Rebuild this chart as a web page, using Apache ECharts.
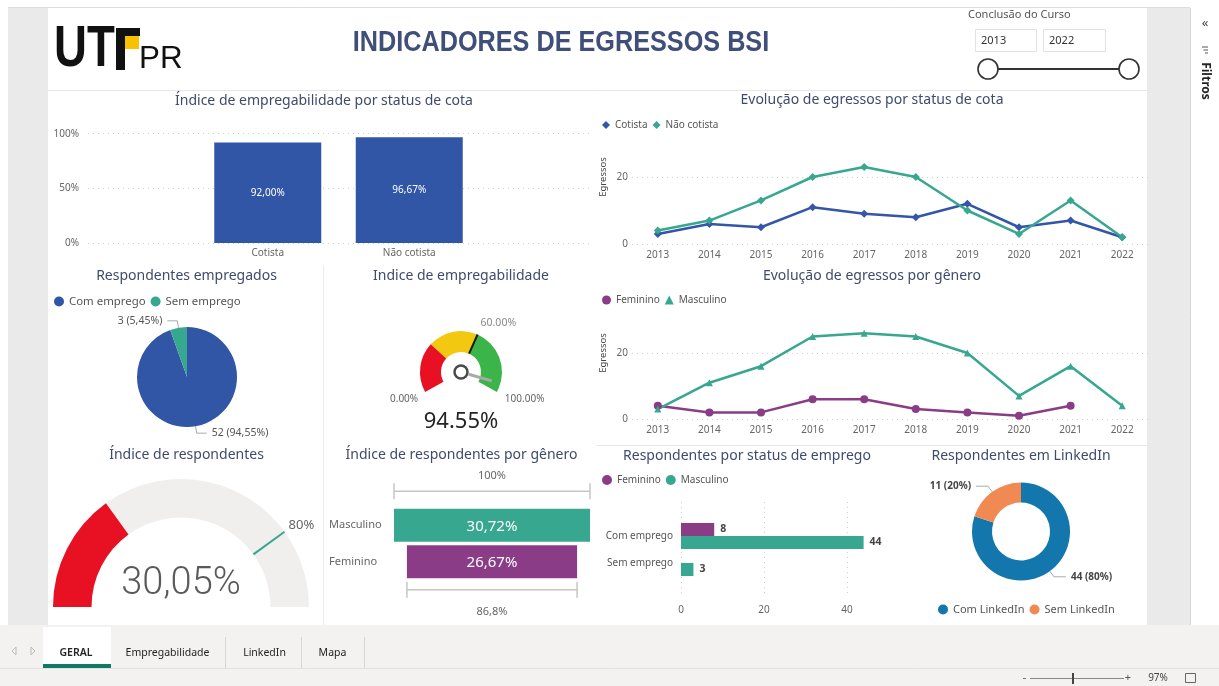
<!DOCTYPE html>
<html lang="pt-BR">
<head>
<meta charset="utf-8">
<title>Indicadores de Egressos BSI</title>
<script src="https://cdn.jsdelivr.net/npm/echarts@6.0.0/dist/echarts.min.js"></script>
<style>
  html, body { margin: 0; padding: 0; background: #fff; }
  #painel { width: 1219px; height: 686px; }
</style>
</head>
<body>
<div id="painel"></div>
<script>
// ---------------- dados ----------------
const cotaCategorias = ['Cotista', 'Não cotista'];
const cotaEmpregabilidade = [92.00, 96.67];
const eixoPercentual = [0, 100];

const anos = ['2013', '2014', '2015', '2016', '2017', '2018', '2019', '2020', '2021', '2022'];
const egressosCotista = [3, 6, 5, 11, 9, 8, 12, 5, 7, 2];
const egressosNaoCotista = [4, 7, 13, 20, 23, 20, 10, 3, 13, 2];
const egressosFeminino = [4, 2, 2, 6, 6, 3, 2, 1, 4, null];
const egressosMasculino = [3, 11, 16, 25, 26, 25, 20, 7, 16, 4];

const empregadosCategorias = ['Com emprego', 'Sem emprego'];
const empregadosValores = [52, 3];

const indiceEmpregabilidade = 94.55;
const metaEmpregabilidade = 60;
const faixasEmpregabilidade = [30, 60, 100];

const indiceRespondentes = 30.05;
const metaRespondentes = 80;

const generoCategorias = ['Masculino', 'Feminino'];
const generoRespondentes = [30.72, 26.67];

const statusCategorias = ['Com emprego', 'Sem emprego'];
const statusFeminino = [8, null];
const statusMasculino = [44, 3];

const linkedinCategorias = ['Com LinkedIn', 'Sem LinkedIn'];
const linkedinValores = [44, 11];

const anosFiltro = ['2013', '2022'];
const abas = ['GERAL', 'Empregabilidade', 'LinkedIn', 'Mapa'];

// ---------------- estilo ----------------
const AZUL = '#3256A6';
const VERDE = '#37A78F';
const ROXO = '#8A3C87';
const LI_AZUL = '#1377AD';
const LI_LARANJA = '#F08A52';
const TITULO = '#3F4B6C';
const FONTE = 'Noto Sans';

const fmtPct = v => v.toFixed(2).replace('.', ',') + '%';

// geometria dos medidores (mesma usada nas séries gauge)
const velo = { centro: [461, 372], raio: 41, ini: 209, fim: -29 };
const medidor = { centro: [181, 607], raio: 128, ini: 180, fim: 0 };
function pontoArco(g, v) {
  const a = (g.ini - v / 100 * (g.ini - g.fim)) * Math.PI / 180;
  return [g.centro[0] + g.raio * Math.cos(a), g.centro[1] - g.raio * Math.sin(a)];
}

const chart = echarts.init(document.getElementById('painel'), null, { renderer: 'canvas' });

// titulos dos visuais
function titulo(texto, x, y) {
  return {
    type: 'text', z: 5,
    style: { text: texto, x: x, y: y, align: 'center', verticalAlign: 'middle',
      fill: TITULO, font: '14px "' + FONTE + '"' }
  };
}
function linha(x1, y1, x2, y2, cor, w) {
  return { type: 'line', z: -5, shape: { x1, y1, x2, y2 }, style: { stroke: cor, lineWidth: w || 1 } };
}
function texto(t, x, y, font, cor, align, extra) {
  return Object.assign({
    type: 'text', z: 5,
    style: { text: t, x, y, font, fill: cor, align: align || 'left', verticalAlign: 'middle' }
  }, extra || {});
}
// texto "estreito" (simula fonte condensada)
function textoEstreito(t, x, y, font, cor, align, escala) {
  return {
    type: 'text', z: 5, x: x, y: y, scaleX: escala,
    style: { text: t, x: 0, y: 0, font, fill: cor, align: align, verticalAlign: 'middle' }
  };
}

const p0 = pontoArco(velo, 0), p100 = pontoArco(velo, 100), pMeta = pontoArco(velo, metaEmpregabilidade);
const pMetaResp = pontoArco(medidor, metaRespondentes);

// moldura do Power BI (fundo, abas, filtros)
const moldura = [
  { type: 'rect', z: -10, shape: { x: 8, y: 8, width: 40, height: 617 }, style: { fill: '#EAEAEA' } },
  { type: 'rect', z: -10, shape: { x: 1147, y: 8, width: 43, height: 617 }, style: { fill: '#EAEAEA' } },
  linha(8, 7.5, 1190, 7.5, '#dddddd'),
  linha(48, 90.5, 1147, 90.5, '#e6e6e6'),
  linha(323.5, 266, 323.5, 625, '#ececec'),
  linha(597, 445.5, 1147, 445.5, '#e6e6e6'),
  // painel de filtros
  linha(1190.5, 8, 1190.5, 625, '#d6d6d6'),
  texto('«', 1205, 23, '13px "' + FONTE + '"', '#444', 'center'),
  linha(1202, 47, 1208, 47, '#555'),
  linha(1203.5, 50, 1208, 50, '#555'),
  linha(1205, 53, 1208, 53, '#555'),
  { type: 'text', z: 5, x: 1205, y: 81, rotation: -Math.PI / 2,
    style: { text: 'Filtros', x: 0, y: 0, align: 'center', verticalAlign: 'middle',
      font: 'bold 12px "' + FONTE + '"', fill: '#252423' } },
  // barra de abas e barra de status
  { type: 'rect', z: -10, shape: { x: 0, y: 625, width: 1219, height: 43 }, style: { fill: '#F3F2F1' } },
  { type: 'rect', z: -10, shape: { x: 0, y: 668, width: 1219, height: 18 }, style: { fill: '#F3F2F1' } },
  linha(0, 668.5, 1219, 668.5, '#e3e1df'),
  { type: 'polyline', z: 5, shape: { points: [[16, 647], [12, 651], [16, 655], [16, 647]] }, style: { stroke: '#bbb', fill: null } },
  { type: 'polyline', z: 5, shape: { points: [[31, 647], [35, 651], [31, 655], [31, 647]] }, style: { stroke: '#bbb', fill: null } },
  { type: 'rect', z: -5, shape: { x: 43, y: 627, width: 68, height: 41 }, style: { fill: '#ffffff' } },
  { type: 'rect', z: 5, shape: { x: 43, y: 664, width: 68, height: 4 }, style: { fill: '#117865' } },
  linha(225.5, 637, 225.5, 668, '#d6d6d6'),
  linha(301.5, 637, 301.5, 668, '#d6d6d6'),
  linha(364.5, 637, 364.5, 668, '#d6d6d6'),
  // zoom 97%
  linha(1023, 678.5, 1026, 678.5, '#777'),
  linha(1030, 678.5, 1124, 678.5, '#888'),
  { type: 'rect', z: 5, shape: { x: 1072, y: 673, width: 2, height: 11 }, style: { fill: '#444' } },
  texto('+', 1128, 678, '11px "' + FONTE + '"', '#555', 'center'),
  texto('97%', 1158, 678, '10px "' + FONTE + '"', '#444', 'center'),
  { type: 'rect', z: 5, shape: { x: 1185.5, y: 673.5, width: 10, height: 9 }, style: { stroke: '#666', fill: null } },
  // cabeçalho: logo UTFPR
  textoEstreito('UT', 54, 50, 'bold 57px "Liberation Sans"', '#111', 'left', 0.8),
  { type: 'rect', z: 5, shape: { x: 116, y: 28, width: 24, height: 8 }, style: { fill: '#111' } },
  { type: 'rect', z: 5, shape: { x: 116, y: 28, width: 9, height: 42 }, style: { fill: '#111' } },
  { type: 'rect', z: 5, shape: { x: 125, y: 36, width: 14, height: 13 }, style: { fill: '#F7C300' } },
  textoEstreito('PR', 139, 59, '32px "Liberation Sans"', '#111', 'left', 0.98),
  textoEstreito('INDICADORES DE EGRESSOS BSI', 561, 43, 'bold 29px "Liberation Sans"', '#404E7A', 'center', 0.87),
  // segmentação por ano
  texto('Conclusão do Curso', 968, 15, '11px "' + FONTE + '"', '#555', 'left'),
  { type: 'rect', z: 5, shape: { x: 975.5, y: 29.5, width: 61, height: 22 }, style: { stroke: '#e2e2e2', fill: '#fff' } },
  { type: 'rect', z: 5, shape: { x: 1043.5, y: 29.5, width: 62, height: 22 }, style: { stroke: '#e2e2e2', fill: '#fff' } },
  texto(anosFiltro[0], 981, 41, '11px "' + FONTE + '"', '#333', 'left'),
  texto(anosFiltro[1], 1049, 41, '11px "' + FONTE + '"', '#333', 'left'),
  { type: 'line', z: 5, shape: { x1: 988, y1: 69, x2: 1129, y2: 69 }, style: { stroke: '#333', lineWidth: 2 } },
  { type: 'circle', z: 6, shape: { cx: 988, cy: 69, r: 10 }, style: { fill: '#fff', stroke: '#333', lineWidth: 1.6 } },
  { type: 'circle', z: 6, shape: { cx: 1129, cy: 69, r: 10 }, style: { fill: '#fff', stroke: '#333', lineWidth: 1.6 } },
  // rótulos dos medidores
  texto((0).toFixed(2) + '%', p0[0] - 7, p0[1] + 7, '10px "' + FONTE + '"', '#666', 'right'),
  texto((100).toFixed(2) + '%', p100[0] + 8, p100[1] + 7, '10px "' + FONTE + '"', '#666', 'left'),
  texto(metaEmpregabilidade.toFixed(2) + '%', pMeta[0] + 3, pMeta[1] - 11, '10.5px "' + FONTE + '"', '#8a8a8a', 'left'),
  texto(metaRespondentes + '%', pMetaResp[0] + 4, pMetaResp[1] - 6, '13px "' + FONTE + '"', '#666', 'left'),
  // títulos
  titulo('Índice de empregabilidade por status de cota', 324, 101),
  titulo('Evolução de egressos por status de cota', 872, 100),
  titulo('Respondentes empregados', 186.5, 276),
  titulo('Indice de empregabilidade', 461, 276),
  titulo('Evolução de egressos por gênero', 872, 276),
  titulo('Índice de respondentes', 186.5, 455),
  titulo('Índice de respondentes por gênero', 461.5, 455),
  titulo('Respondentes por status de emprego', 747, 456),
  titulo('Respondentes em LinkedIn', 1021, 456)
];
const centrosAbas = [76, 167.5, 264.5, 332.5];
abas.forEach((a, i) => {
  moldura.push(texto(a, centrosAbas[i], 653, (i === 0 ? '600 ' : '') + '10.5px "' + FONTE + '"', '#252423', 'center'));
});

// funil "Índice de respondentes por gênero"
const coresGenero = [VERDE, ROXO];
function desenhaFunil(params, api) {
  const i = params.dataIndex;
  const v = api.value(1);
  const maxV = Math.max(...generoRespondentes);
  const a = api.coord([(maxV - v) / 2, api.value(0)]);
  const b = api.coord([(maxV + v) / 2, api.value(0)]);
  const h = api.size([0, 1])[1] * 0.9;
  const cx = (a[0] + b[0]) / 2;
  const filhos = [
    { type: 'rect', shape: { x: a[0], y: a[1] - h / 2, width: b[0] - a[0], height: h }, style: { fill: coresGenero[i] } },
    { type: 'text', style: { text: fmtPct(v), x: cx, y: a[1] + 1, align: 'center', verticalAlign: 'middle',
      fill: '#fff', font: '15px "' + FONTE + '"' } }
  ];
  const ultimo = params.dataInsideLength - 1;
  if (i === 0 || i === ultimo) {
    const yl = i === 0 ? a[1] - 34 : a[1] + 28;
    const yt = i === 0 ? a[1] - 49 : a[1] + 50;
    const conv = v / generoRespondentes[0] * 100;
    const rot = i === 0 ? '100%' : conv.toFixed(1).replace('.', ',') + '%';
    const st = { stroke: '#c8c6c4', lineWidth: 1.5 };
    filhos.push({ type: 'line', shape: { x1: a[0], y1: yl, x2: b[0], y2: yl }, style: st });
    filhos.push({ type: 'line', shape: { x1: a[0], y1: yl - 8, x2: a[0], y2: yl + 8 }, style: st });
    filhos.push({ type: 'line', shape: { x1: b[0], y1: yl - 8, x2: b[0], y2: yl + 8 }, style: st });
    filhos.push({ type: 'text', style: { text: rot, x: cx, y: yt, align: 'center', verticalAlign: 'middle',
      fill: '#666', font: '11px "' + FONTE + '"' } });
  }
  return { type: 'group', children: filhos };
}

const eixoCinza = { color: '#666', fontSize: 10, fontFamily: FONTE };
const pontilhado = { show: true, lineStyle: { color: '#cfcfcf', type: [1, 4], width: 1 } };

const option = {
  backgroundColor: '#ffffff',
  animation: false,
  textStyle: { fontFamily: FONTE },
  graphic: { elements: moldura },
  legend: [
    { left: 602, top: 120, itemWidth: 8, itemHeight: 8, itemGap: 5, padding: 0,
      textStyle: { fontSize: 10, color: '#555' },
      data: [{ name: 'Cotista', icon: 'diamond' }, { name: 'Não cotista', icon: 'diamond' }] },
    { left: 602, top: 295, itemWidth: 9, itemHeight: 9, itemGap: 5, padding: 0,
      textStyle: { fontSize: 10, color: '#555' },
      data: [{ name: 'Feminino', icon: 'circle' }, { name: 'Masculino', icon: 'triangle' }] },
    { left: 54, top: 296, itemWidth: 10, itemHeight: 10, itemGap: 5, padding: 0, icon: 'circle',
      textStyle: { fontSize: 11.4, color: '#555' }, data: empregadosCategorias },
    { left: 602, top: 475, itemWidth: 10, itemHeight: 10, itemGap: 5, padding: 0,
      textStyle: { fontSize: 10, color: '#555' },
      data: [{ name: 'Feminino', icon: 'circle' }, { name: 'Masculino', icon: 'circle' }] },
    { left: 938, top: 604, itemWidth: 10, itemHeight: 10, itemGap: 5, padding: 0, icon: 'circle',
      textStyle: { fontSize: 11, color: '#555' }, data: linkedinCategorias }
  ],
  grid: [
    { left: 88, right: 629, top: 133.7, height: 109.3 },        // 0 fundo barras cota
    { left: 197, width: 283, top: 133.7, height: 109.3 },       // 1 barras cota
    { left: 632, right: 71, top: 110, height: 134 },            // 2 linha cota
    { left: 632, right: 71, top: 287, height: 132 },            // 3 linha gênero
    { left: 394, width: 196, top: 507, height: 73 },            // 4 funil
    { left: 681, width: 207.5, top: 502, height: 95 },          // 5 fundo status
    { left: 681, width: 207.5, top: 522.5, height: 54 }         // 6 barras status
  ],
  xAxis: [
    { gridIndex: 0, type: 'category', data: cotaCategorias, show: false },
    { gridIndex: 1, type: 'category', data: cotaCategorias, axisLine: { show: false }, axisTick: { show: false },
      axisLabel: Object.assign({ margin: 5 }, eixoCinza) },
    { gridIndex: 2, type: 'category', data: anos, boundaryGap: true, axisLine: { show: false }, axisTick: { show: false },
      axisLabel: Object.assign({ margin: 6 }, eixoCinza) },
    { gridIndex: 3, type: 'category', data: anos, boundaryGap: true, axisLine: { show: false }, axisTick: { show: false },
      axisLabel: Object.assign({ margin: 6 }, eixoCinza) },
    { gridIndex: 4, type: 'value', min: 0, max: Math.max(...generoRespondentes), show: false },
    { gridIndex: 5, type: 'value', min: 0, max: 50, interval: 20, axisLine: { show: false }, axisTick: { show: false },
      axisLabel: Object.assign({ margin: 8, showMaxLabel: false }, eixoCinza),
      splitLine: Object.assign({ showMaxLine: false }, pontilhado) },
    { gridIndex: 6, type: 'value', min: 0, max: 50, show: false }
  ],
  yAxis: [
    { gridIndex: 0, type: 'value', min: eixoPercentual[0], max: eixoPercentual[1], interval: 50,
      axisLine: { show: false }, axisTick: { show: false },
      axisLabel: Object.assign({ margin: 9, formatter: '{value}%' }, eixoCinza), splitLine: pontilhado },
    { gridIndex: 1, type: 'value', min: eixoPercentual[0], max: eixoPercentual[1], show: false },
    { gridIndex: 2, type: 'value', min: 0, max: 40, interval: 20, axisLine: { show: false }, axisTick: { show: false },
      axisLabel: Object.assign({ margin: 4, showMaxLabel: false }, eixoCinza),
      splitLine: Object.assign({ showMaxLine: false }, pontilhado),
      name: 'Egressos', nameLocation: 'middle', nameGap: 24, nameTextStyle: { fontSize: 9.5, color: '#444' } },
    { gridIndex: 3, type: 'value', min: 0, max: 40, interval: 20, axisLine: { show: false }, axisTick: { show: false },
      axisLabel: Object.assign({ margin: 4, showMaxLabel: false }, eixoCinza),
      splitLine: Object.assign({ showMaxLine: false }, pontilhado),
      name: 'Egressos', nameLocation: 'middle', nameGap: 24, nameTextStyle: { fontSize: 9.5, color: '#444' } },
    { gridIndex: 4, type: 'category', inverse: true, data: generoCategorias, axisLine: { show: false }, axisTick: { show: false },
      axisLabel: { margin: 65, align: 'left', color: '#666', fontSize: 11 } },
    { gridIndex: 5, type: 'category', data: statusCategorias, show: false },
    { gridIndex: 6, type: 'category', inverse: true, data: statusCategorias, axisLine: { show: false }, axisTick: { show: false },
      axisLabel: { margin: 8, color: '#555', fontSize: 10 } }
  ],
  series: [
    // Índice de empregabilidade por status de cota
    { type: 'bar', xAxisIndex: 1, yAxisIndex: 1, data: cotaEmpregabilidade, barWidth: 107,
      itemStyle: { color: AZUL },
      label: { show: true, position: 'inside', color: '#fff', fontSize: 10, formatter: p => fmtPct(p.value) } },
    // Evolução por status de cota
    { name: 'Cotista', type: 'line', xAxisIndex: 2, yAxisIndex: 2, data: egressosCotista, color: '#3456A8',
      symbol: 'diamond', symbolSize: 8, lineStyle: { width: 2.5 } },
    { name: 'Não cotista', type: 'line', xAxisIndex: 2, yAxisIndex: 2, data: egressosNaoCotista, color: VERDE,
      symbol: 'diamond', symbolSize: 8, lineStyle: { width: 2.5 } },
    // Evolução por gênero
    { name: 'Feminino', type: 'line', xAxisIndex: 3, yAxisIndex: 3, data: egressosFeminino, color: ROXO,
      symbol: 'circle', symbolSize: 8, lineStyle: { width: 2.5 } },
    { name: 'Masculino', type: 'line', xAxisIndex: 3, yAxisIndex: 3, data: egressosMasculino, color: VERDE,
      symbol: 'triangle', symbolSize: 7, lineStyle: { width: 2.5 } },
    // Respondentes empregados
    { type: 'pie', center: [187, 377], radius: 50, startAngle: 90, color: [AZUL, VERDE],
      data: empregadosCategorias.map((n, i) => ({ name: n, value: empregadosValores[i] })),
      label: { color: '#555', fontSize: 10.5, formatter: p => p.value + ' (' + p.percent.toFixed(2).replace('.', ',') + '%)' },
      labelLine: { length: 7, length2: 10, lineStyle: { color: '#aaa' } },
      emphasis: { disabled: true } },
    // Indice de empregabilidade (velocímetro)
    { type: 'gauge', center: velo.centro, radius: velo.raio, startAngle: velo.ini, endAngle: velo.fim, min: 0, max: 100,
      axisLine: { lineStyle: { width: 21, color: [
        [faixasEmpregabilidade[0] / 100, '#E81123'], [faixasEmpregabilidade[1] / 100, '#F2C811'], [1, '#3BB44A']] } },
      splitLine: { show: false }, axisTick: { show: false }, axisLabel: { show: false },
      pointer: { icon: 'rect', length: 24, width: 3, offsetCenter: [0, -8], itemStyle: { color: '#a9a9a9' } },
      anchor: { show: true, showAbove: true, size: 13, itemStyle: { color: '#fff', borderColor: '#4a4a4a', borderWidth: 2.5 } },
      title: { show: false },
      detail: { offsetCenter: [0, 50], fontSize: 22, fontWeight: 'normal', color: '#252423', fontFamily: FONTE,
        formatter: v => v.toFixed(2) + '%' },
      data: [{ value: indiceEmpregabilidade }] },
    { type: 'gauge', center: velo.centro, radius: velo.raio, startAngle: velo.ini, endAngle: velo.fim, min: 0, max: 100,
      axisLine: { show: false }, splitLine: { show: false }, axisTick: { show: false }, axisLabel: { show: false },
      pointer: { icon: 'rect', length: 21, width: 2, offsetCenter: [0, -20], itemStyle: { color: '#1a1a1a' } },
      anchor: { show: false }, title: { show: false }, detail: { show: false },
      data: [{ value: metaEmpregabilidade }] },
    // Índice de respondentes (medidor)
    { type: 'gauge', center: medidor.centro, radius: medidor.raio, startAngle: medidor.ini, endAngle: medidor.fim, min: 0, max: 100,
      axisLine: { lineStyle: { width: 38.5, color: [[1, '#F0EFEE']] } },
      progress: { show: true, width: 38.5, itemStyle: { color: '#E81123' } },
      splitLine: { show: false }, axisTick: { show: false }, axisLabel: { show: false },
      pointer: { show: false }, anchor: { show: false }, title: { show: false },
      detail: { offsetCenter: [0, -23], fontSize: 38, fontWeight: 300, fontFamily: 'Roboto',
        color: '#5a5a5a', formatter: v => fmtPct(v) },
      data: [{ value: indiceRespondentes }] },
    { type: 'gauge', center: medidor.centro, radius: medidor.raio, startAngle: medidor.ini, endAngle: medidor.fim, min: 0, max: 100,
      axisLine: { show: false }, splitLine: { show: false }, axisTick: { show: false }, axisLabel: { show: false },
      pointer: { icon: 'rect', length: 38.5, width: 2, offsetCenter: [0, -89.5], itemStyle: { color: VERDE } },
      anchor: { show: false }, title: { show: false }, detail: { show: false },
      data: [{ value: metaRespondentes }] },
    // Índice de respondentes por gênero (funil)
    { type: 'custom', xAxisIndex: 4, yAxisIndex: 4, renderItem: desenhaFunil, encode: { x: 1, y: 0 },
      data: generoCategorias.map((c, i) => [c, generoRespondentes[i]]) },
    // Respondentes por status de emprego
    { name: 'Feminino', type: 'bar', xAxisIndex: 6, yAxisIndex: 6, data: statusFeminino, color: ROXO,
      barWidth: 13, barGap: '0%',
      label: { show: true, position: 'right', distance: 6, color: '#444', fontSize: 10.5, fontWeight: 'bold' } },
    { name: 'Masculino', type: 'bar', xAxisIndex: 6, yAxisIndex: 6, data: statusMasculino, color: VERDE,
      barWidth: 13, barGap: '0%',
      label: { show: true, position: 'right', distance: 6, color: '#444', fontSize: 10.5, fontWeight: 'bold' } },
    // Respondentes em LinkedIn
    { type: 'pie', center: [1021, 531.5], radius: [29, 49], startAngle: 90, color: [LI_AZUL, LI_LARANJA],
      data: linkedinCategorias.map((n, i) => ({ name: n, value: linkedinValores[i] })),
      label: { color: '#444', fontSize: 10, fontWeight: 'bold', formatter: '{c} ({d}%)' },
      labelLine: { length: 7, length2: 12, lineStyle: { color: '#aaa' } },
      emphasis: { disabled: true } }
  ]
};

chart.setOption(option);
</script>
</body>
</html>
